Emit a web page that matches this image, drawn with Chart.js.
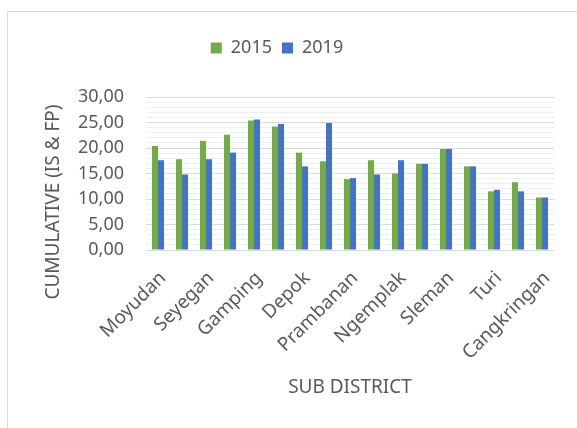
<!DOCTYPE html>
<html>
<head>
<meta charset="utf-8">
<script src="https://cdn.jsdelivr.net/npm/chart.js@4/dist/chart.umd.min.js"></script>
<style>
  html, body { margin: 0; padding: 0; background: #fff; }
  #wrap { position: relative; width: 577px; height: 428px; }
</style>
</head>
<body>
<div id="wrap"><canvas id="c" width="577" height="428"></canvas></div>
<script>
const categories = ["Moyudan", "Minggir", "Seyegan", "Godean", "Gamping", "Mlati", "Depok", "Berbah", "Prambanan", "Kalasan", "Ngemplak", "Ngaglik", "Sleman", "Tempel", "Turi", "Pakem", "Cangkringan"];
const values2015 = [20.4, 17.8, 21.4, 22.6, 25.4, 24.2, 19.1, 17.4, 13.9, 17.6, 15.0, 16.9, 19.8, 16.4, 11.5, 13.3, 10.3];
const values2019 = [17.6, 14.8, 17.8, 19.1, 25.6, 24.7, 16.4, 24.9, 14.1, 14.8, 17.6, 16.9, 19.8, 16.4, 11.8, 11.5, 10.3];
const seriesNames = ["2015", "2019"];
const yTitle = "CUMULATIVE (IS & FP)";
const xTitle = "SUB DISTRICT";

const FONT = "'Noto Sans', 'Open Sans', sans-serif";
const TXT = '#595959';

const framePlugin = {
  id: 'frame',
  beforeInit(chart) {
    if (chart.legend) {
      const lg = chart.legend;
      const orig = lg.fit.bind(lg);
      lg.fit = function () { orig(); this.height = 68; };
    }
  },
  beforeDraw(chart) {
    const ctx = chart.ctx;
    ctx.save();
    ctx.fillStyle = '#fff';
    ctx.fillRect(0, 0, chart.width, chart.height);
    ctx.strokeStyle = '#d9d9d9';
    ctx.lineWidth = 1;
    ctx.beginPath();
    ctx.moveTo(7.5, chart.height);
    ctx.lineTo(7.5, 11.5);
    ctx.lineTo(chart.width, 11.5);
    ctx.stroke();
    ctx.restore();
  },
  afterDraw(chart) {
    const ctx = chart.ctx;
    ctx.save();
    ctx.translate(54, 202);
    ctx.rotate(-Math.PI / 2);
    ctx.font = "19px " + FONT;
    ctx.fillStyle = TXT;
    ctx.textAlign = 'center';
    ctx.textBaseline = 'middle';
    ctx.fillText(yTitle, 0, 0);
    ctx.restore();
  }
};

new Chart(document.getElementById('c'), {
  type: 'bar',
  data: {
    labels: categories,
    datasets: [
      { label: seriesNames[0], data: values2015, backgroundColor: '#70ad47', categoryPercentage: 0.5, barPercentage: 1.0 },
      { label: seriesNames[1], data: values2019, backgroundColor: '#4472c4', categoryPercentage: 0.5, barPercentage: 1.0 }
    ]
  },
  options: {
    responsive: false,
    animation: false,
    devicePixelRatio: 1,
    layout: { padding: { top: 29, left: 0, right: 23, bottom: 25 } },
    plugins: {
      legend: {
        position: 'top',
        align: 'center',
        labels: {
          boxWidth: 11, boxHeight: 11, padding: 10,
          color: TXT,
          font: { family: FONT, size: 18 }
        }
      },
      tooltip: { enabled: false }
    },
    scales: {
      x: {
        grid: { display: false, drawTicks: false },
        border: { display: false },
        ticks: {
          autoSkip: false,
          maxRotation: 45, minRotation: 45,
          padding: 17,
          labelOffset: 5,
          color: TXT,
          font: { family: FONT, size: 19 },
          callback: function (v, i) { return i % 2 === 0 ? categories[i] : ''; }
        },
        title: { display: true, text: xTitle, color: TXT, font: { family: FONT, size: 19 }, padding: { top: 4, bottom: 4 } },
        afterFit: function (s) { s.height = 428 - 25 - 250; }
      },
      y: {
        min: 0, max: 30,
        grid: {
          drawTicks: false,
          color: function (c) { return (c.tick && Math.round(c.tick.value) % 5 === 0) ? '#d9d9d9' : '#f0f0f0'; },
          lineWidth: 1
        },
        border: { display: false },
        ticks: {
          stepSize: 1,
          autoSkip: false,
          maxTicksLimit: 40,
          padding: 22,
          color: TXT,
          font: { family: FONT, size: 18 },
          callback: function (v) { return (Math.round(v) % 5 === 0) ? v.toFixed(2).replace('.', ',') : ''; }
        },
        afterFit: function (s) { s.width = 146; }
      }
    }
  },
  plugins: [framePlugin]
});
</script>
</body>
</html>
